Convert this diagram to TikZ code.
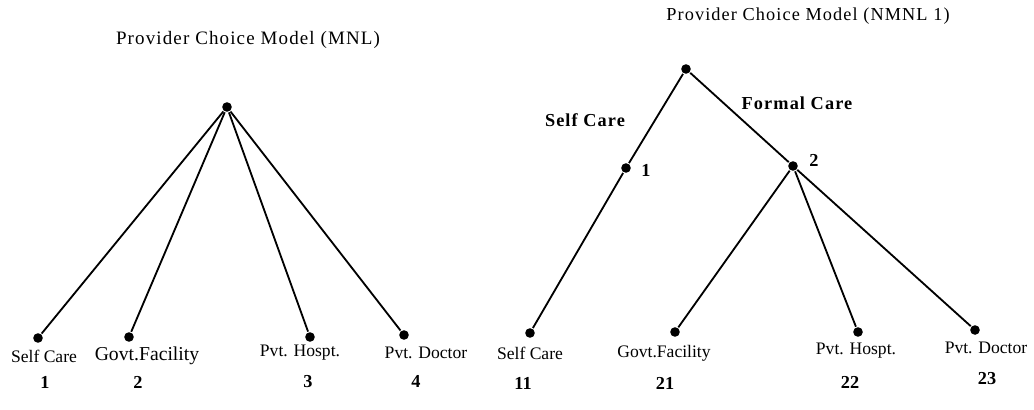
\documentclass[tikz,border=0pt]{standalone}
\usepackage{fontspec}
\setmainfont{Liberation Serif}
\usepackage{tikz}
\usetikzlibrary{positioning}

\begin{document}
\begin{tikzpicture}[x=0.025cm,y=-0.025cm,line width=1.3pt,
    dot/.style={inner sep=0pt,minimum size=2.4mm,circle,fill},
    alt/.style={inner sep=1pt,font=\fontsize{12.5}{15}\selectfont},
    num/.style={inner sep=1pt,font=\fontsize{13}{15}\selectfont\bfseries},
    nest/.style={inner sep=1pt,font=\fontsize{13}{15}\selectfont\bfseries\addfontfeature{LetterSpace=6}},
    title/.style={inner sep=1pt,font=\fontsize{13.5}{16}\selectfont\addfontfeature{LetterSpace=6}}]
    \useasboundingbox (0,0) rectangle (1034,409);
      \node[title](t1) at (248,40){Provider Choice Model (MNL)};
      \node[dot](m0) at (227,107){};
      \node[dot](m1) at (38,338){};
      \node[dot](m2) at (129,337){};
      \node[dot](m3) at (310,337){};
      \node[dot](m4) at (404,335){};
      \foreach \i in {1,...,4}
        \draw (m0) -- (m\i);
      \node[alt](l1) at (44,356){Self Care};
      \node[alt,font=\fontsize{14}{16}\selectfont](l2) at (147,356){Govt.Facility};
      \node[alt](l3) at (300,353){Pvt. Hospt.};
      \node[alt](l4) at (426,353){Pvt. Doctor};
      \node[num](k1) at (45,382){1};
      \node[num](k2) at (138,382){2};
      \node[num](k3) at (308,382){3};
      \node[num](k4) at (416,381){4};

      \node[title,font=\fontsize{13}{16}\selectfont\addfontfeature{LetterSpace=6}](t2) at (808,16){Provider Choice Model (NMNL 1)};
      \node[dot](n0) at (686,69){};
      \node[dot](n1) at (626,168){};
      \node[dot](n2) at (793,166){};
      \node[dot](n11) at (530,333){};
      \node[dot](n21) at (675,332){};
      \node[dot](n22) at (858,332){};
      \node[dot](n23) at (975,330){};
      \draw (n0) -- (n1) -- (n11);
      \draw (n0) -- (n2);
      \foreach \i in {21,22,23}
        \draw (n2) -- (n\i);
      \node[num](b1) at (646,170){1};
      \node[num](b2) at (814,160){2};
      \node[nest](s1) at (585,120){Self Care};
      \node[nest](s2) at (797,103){Formal Care};
      \node[alt](r1) at (530,353){Self Care};
      \node[alt](r2) at (664,353){Govt.Facility};
      \node[alt](r3) at (856,351){Pvt. Hospt.};
      \node[alt](r4) at (986,348){Pvt. Doctor};
      \node[num](c1) at (523,383){11};
      \node[num](c2) at (665,383){21};
      \node[num](c3) at (850,382){22};
      \node[num](c4) at (987,379){23};
\end{tikzpicture}
\end{document}
